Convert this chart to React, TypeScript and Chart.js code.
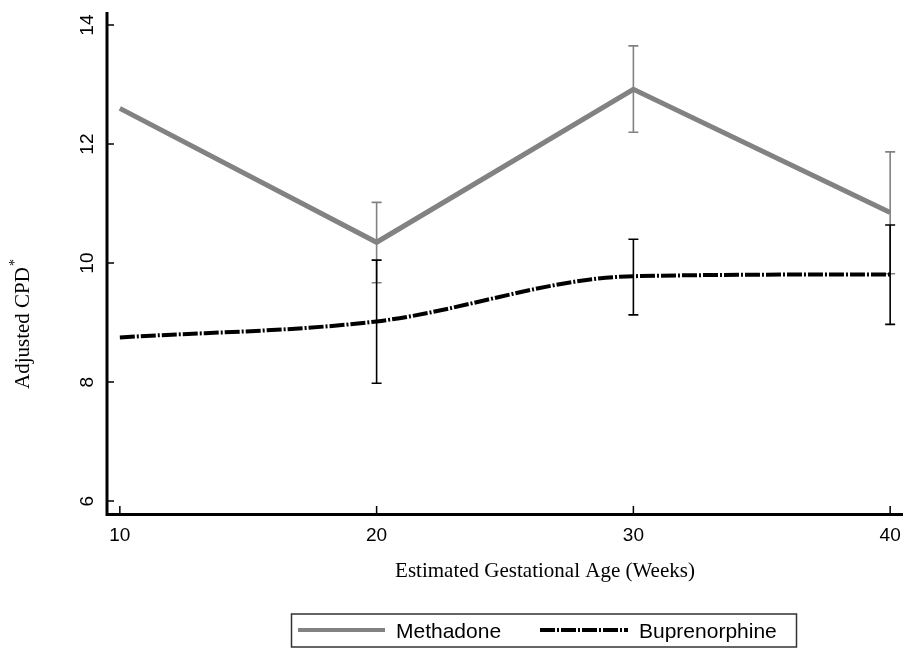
import React, { useEffect, useRef } from "react";
import { Chart, registerables } from "chart.js";
Chart.register(...registerables);

const weeks = [10, 20, 30, 40];
const methadone = [12.6, 10.35, 12.92, 10.85];
const methadoneLow = [null, 9.67, 12.2, 9.82];
const methadoneHigh = [null, 11.02, 13.65, 11.87];
const buprenorphine = [8.75, 9.02, 9.78, 9.81];
const bupLow = [null, 7.98, 9.13, 8.97];
const bupHigh = [null, 10.05, 10.4, 10.64];
const xTicks = [10, 20, 30, 40];
const yTicks = [6, 8, 10, 12, 14];
const xTitle = "Estimated Gestational Age (Weeks)";
const yTitle = "Adjusted CPD";
const seriesNames = ["Methadone", "Buprenorphine"];

const GRAY = "#828282";
const SANS = '"Liberation Sans", Arial, sans-serif';
const SERIF = '"Liberation Serif", "Times New Roman", serif';
const BUP_DASH = [15, 2, 2, 2];

function drawBars(chart: any, lows: (number | null)[], highs: (number | null)[], color: string) {
  const ctx = chart.ctx;
  const xs = chart.scales.x;
  const ys = chart.scales.y;
  ctx.save();
  ctx.strokeStyle = color;
  ctx.lineWidth = 1.6;
  weeks.forEach((w, i) => {
    const lo = lows[i];
    const hi = highs[i];
    if (lo == null || hi == null) return;
    const x = xs.getPixelForValue(w);
    const y1 = ys.getPixelForValue(lo);
    const y2 = ys.getPixelForValue(hi);
    ctx.beginPath();
    ctx.moveTo(x, y1);
    ctx.lineTo(x, y2);
    ctx.moveTo(x - 5, y1);
    ctx.lineTo(x + 5, y1);
    ctx.moveTo(x - 5, y2);
    ctx.lineTo(x + 5, y2);
    ctx.stroke();
  });
  ctx.restore();
}

const customPlugin = {
  id: "customDraw",
  beforeDatasetsDraw(chart: any) {
    drawBars(chart, methadoneLow, methadoneHigh, GRAY);
  },
  afterDatasetsDraw(chart: any) {
    drawBars(chart, bupLow, bupHigh, "#000");
    const ctx = chart.ctx;
    const xs = chart.scales.x;
    const ys = chart.scales.y;
    const area = chart.chartArea;
    ctx.save();
    // axes lines
    ctx.strokeStyle = "#000";
    ctx.lineWidth = 3;
    ctx.beginPath();
    ctx.moveTo(area.left, area.top);
    ctx.lineTo(area.left, area.bottom + 3);
    ctx.moveTo(area.left - 1.5, area.bottom + 1.5);
    ctx.lineTo(area.right, area.bottom + 1.5);
    ctx.stroke();
    // ticks
    ctx.lineWidth = 1.5;
    ctx.beginPath();
    yTicks.forEach((t) => {
      const y = ys.getPixelForValue(t);
      ctx.moveTo(area.left, y);
      ctx.lineTo(area.left + 7, y);
    });
    xTicks.forEach((t) => {
      const x = xs.getPixelForValue(t);
      ctx.moveTo(x, area.bottom);
      ctx.lineTo(x, area.bottom - 7);
    });
    ctx.stroke();
    // tick labels
    ctx.fillStyle = "#000";
    ctx.font = `19px ${SANS}`;
    ctx.textAlign = "center";
    ctx.textBaseline = "alphabetic";
    xTicks.forEach((t) => {
      ctx.fillText(String(t), xs.getPixelForValue(t), area.bottom + 28);
    });
    yTicks.forEach((t) => {
      const y = ys.getPixelForValue(t);
      ctx.save();
      ctx.translate(area.left - 14, y);
      ctx.rotate(-Math.PI / 2);
      ctx.fillText(String(t), 0, 0);
      ctx.restore();
    });
    // axis titles
    ctx.font = `21px ${SERIF}`;
    ctx.fillText(xTitle, 545, area.bottom + 64);
    ctx.save();
    ctx.translate(29, 322);
    ctx.rotate(-Math.PI / 2);
    const w = ctx.measureText(yTitle).width;
    ctx.textAlign = "left";
    ctx.fillText(yTitle, -w / 2 - 6, 0);
    ctx.font = `14px ${SERIF}`;
    ctx.fillText("*", w / 2 - 5, -10);
    ctx.restore();
    // legend
    ctx.strokeStyle = "#333";
    ctx.lineWidth = 1.5;
    ctx.strokeRect(291.5, 614, 505, 33);
    ctx.lineWidth = 4;
    ctx.strokeStyle = GRAY;
    ctx.beginPath();
    ctx.moveTo(298, 630);
    ctx.lineTo(385, 630);
    ctx.stroke();
    ctx.strokeStyle = "#000";
    ctx.setLineDash(BUP_DASH);
    ctx.beginPath();
    ctx.moveTo(540, 630);
    ctx.lineTo(628, 630);
    ctx.stroke();
    ctx.setLineDash([]);
    ctx.font = `21px ${SANS}`;
    ctx.textAlign = "left";
    ctx.fillStyle = "#000";
    ctx.fillText(seriesNames[0], 396, 638);
    ctx.fillText(seriesNames[1], 639, 638);
    ctx.restore();
  },
};

export default function App() {
  const ref = useRef<HTMLCanvasElement>(null);
  useEffect(() => {
    if (!ref.current) return;
    const chart = new Chart(ref.current, {
      type: "line",
      data: {
        datasets: [
          {
            label: seriesNames[0],
            data: weeks.map((w, i) => ({ x: w, y: methadone[i] })),
            borderColor: GRAY,
            borderWidth: 5,
            pointRadius: 0,
            tension: 0,
            fill: false,
          },
          {
            label: seriesNames[1],
            data: weeks.map((w, i) => ({ x: w, y: buprenorphine[i] })),
            borderColor: "#000",
            borderWidth: 4,
            borderDash: BUP_DASH,
            pointRadius: 0,
            cubicInterpolationMode: "monotone",
            fill: false,
          },
        ],
      },
      options: {
        animation: false,
        responsive: false,
        devicePixelRatio: 1,
        layout: { padding: { left: 107, right: 1, top: 12, bottom: 137 } },
        plugins: { legend: { display: false }, tooltip: { enabled: false } },
        scales: {
          x: { type: "linear", min: 9.5, max: 40.5, display: false },
          y: { type: "linear", min: 5.8, max: 14.22, display: false },
        },
      },
      plugins: [customPlugin],
    } as any);
    return () => chart.destroy();
  }, []);
  return (
    <div style={{ position: "absolute", left: 0, top: 0, width: 904, height: 650, background: "#fff" }}>
      <canvas ref={ref} width={904} height={650} />
    </div>
  );
}
